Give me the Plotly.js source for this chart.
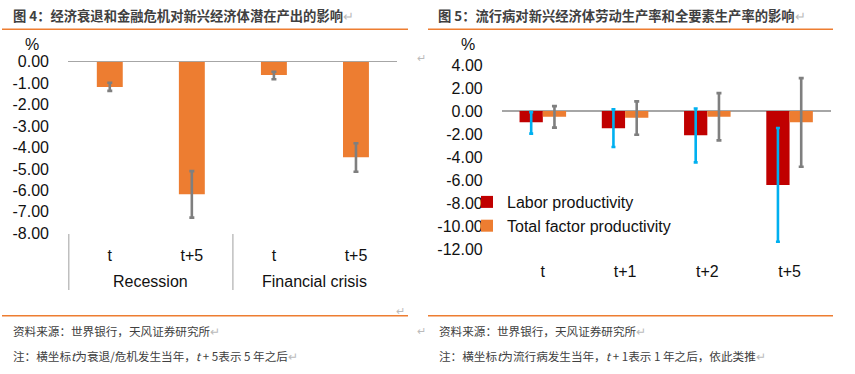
<!DOCTYPE html>
<html>
<head>
<meta charset="utf-8">
<script src="https://cdn.plot.ly/plotly-3.0.1.min.js"></script>
<style>html,body{margin:0;padding:0;background:#fff;}#chart{width:855px;height:374px;}</style>
</head>
<body>
<div id="chart"></div>
<script>
// ---- Figure 4 data ----
const fig4Groups = ["Recession", "Recession", "Financial crisis", "Financial crisis"];
const fig4Periods = ["t", "t+5", "t", "t+5"];
const fig4Values = [-1.18, -6.18, -0.62, -4.46];
const fig4ErrHigh = [-0.98, -5.10, -0.47, -3.80];
const fig4ErrLow = [-1.36, -7.27, -0.82, -5.13];

// ---- Figure 5 data ----
const fig5Periods = ["t", "t+1", "t+2", "t+5"];
const laborValues = [-0.98, -1.50, -2.10, -6.42];
const laborErrHigh = [-0.09, 0.15, 0.23, -1.47];
const laborErrLow = [-1.96, -3.12, -4.45, -11.34];
const tfpValues = [-0.49, -0.57, -0.49, -0.98];
const tfpErrHigh = [0.43, 0.84, 1.56, 2.86];
const tfpErrLow = [-1.44, -2.05, -2.54, -4.83];

const fig4YTicks = [0, -1, -2, -3, -4, -5, -6, -7, -8];
const fig5YTicks = [4, 2, 0, -2, -4, -6, -8, -10, -12];

const plus = (hi, v) => hi.map((h, i) => h - v[i]);
const minus = (lo, v) => lo.map((l, i) => v[i] - l);
const fmt = arr => arr.map(v => v.toFixed(2));

const ORANGE = "#ED7D31", RED = "#C00000", BLUE = "#00B0F0", GREY = "#7F7F7F";
const FONT = "Liberation Sans, Arial, sans-serif";
const CJK = "Noto Sans CJK SC, sans-serif";
const W = 855, H = 374;
const px = x => x / W, py = y => 1 - y / H;

// unique category keys for figure 4, labelled by period
const fig4Keys = fig4Groups.map((g, i) => g + " " + fig4Periods[i]);
// group spans (index ranges) derived from the group array
const groupSpans = [];
fig4Groups.forEach((g, i) => {
  const last = groupSpans[groupSpans.length - 1];
  if (last && last.name === g) last.end = i; else groupSpans.push({name: g, start: i, end: i});
});

const traces = [
  {
    type: "bar", x: fig4Keys, y: fig4Values,
    xaxis: "x", yaxis: "y", marker: {color: ORANGE}, width: 0.316,
    showlegend: false, hoverinfo: "skip",
    error_y: {type: "data", symmetric: false, array: plus(fig4ErrHigh, fig4Values),
      arrayminus: minus(fig4ErrLow, fig4Values), color: GREY, thickness: 2.6, width: 2.5}
  },
  {
    type: "bar", name: "Labor productivity", x: fig5Periods, y: laborValues,
    xaxis: "x2", yaxis: "y2", marker: {color: RED}, offset: -0.283, width: 0.283,
    error_y: {type: "data", symmetric: false, array: plus(laborErrHigh, laborValues),
      arrayminus: minus(laborErrLow, laborValues), color: BLUE, thickness: 2.6, width: 2}
  },
  {
    type: "bar", name: "Total factor productivity", x: fig5Periods, y: tfpValues,
    xaxis: "x2", yaxis: "y2", marker: {color: ORANGE}, offset: 0, width: 0.283,
    error_y: {type: "data", symmetric: false, array: plus(tfpErrHigh, tfpValues),
      arrayminus: minus(tfpErrLow, tfpValues), color: GREY, thickness: 2.6, width: 2.5}
  }
];

const tickFont = {family: FONT, size: 16, color: "#111"};
const yCommon = {
  showgrid: false, zeroline: true, zerolinecolor: "#A6A6A6", zerolinewidth: 1.5,
  showline: false, ticks: "", tickfont: tickFont,
  tickmode: "array", ticklabelstandoff: 18, fixedrange: true
};

const shapes = [
  {type: "line", xref: "paper", yref: "paper", x0: px(2), x1: px(408), y0: py(29.3), y1: py(29.3), line: {color: ORANGE, width: 1.5}},
  {type: "line", xref: "paper", yref: "paper", x0: px(428), x1: px(833), y0: py(29.3), y1: py(29.3), line: {color: ORANGE, width: 1.5}},
  {type: "line", xref: "paper", yref: "paper", x0: px(2), x1: px(408), y0: py(315.7), y1: py(315.7), line: {color: ORANGE, width: 1.5}},
  {type: "line", xref: "paper", yref: "paper", x0: px(428), x1: px(833), y0: py(315.7), y1: py(315.7), line: {color: ORANGE, width: 1.5}}
];
// group dividers: at the start of every group
groupSpans.forEach(s => {
  shapes.push({type: "line", xref: "x", yref: "paper", x0: s.start - 0.5, x1: s.start - 0.5,
    y0: py(234), y1: py(290), line: {color: "#BFBFBF", width: 1.5}});
});

const annotations = [
  {xref: "paper", yref: "paper", x: px(11), y: py(15), xanchor: "left", yanchor: "middle", showarrow: false,
    text: "<b>图 4：经济衰退和金融危机对新兴经济体潜在产出的影响</b><span style=\"color:#BBBBBB\">↵</span>",
    font: {family: CJK, size: 13.3, color: "#404040"}},
  {xref: "paper", yref: "paper", x: px(436), y: py(15), xanchor: "left", yanchor: "middle", showarrow: false,
    text: "<b>图 5：流行病对新兴经济体劳动生产率和全要素生产率的影响</b><span style=\"color:#BBBBBB\">↵</span>",
    font: {family: CJK, size: 13.3, color: "#404040"}},
  {xref: "paper", yref: "paper", x: px(32), y: py(44), xanchor: "center", yanchor: "middle", showarrow: false,
    text: "%", font: {family: FONT, size: 16, color: "#111"}},
  {xref: "paper", yref: "paper", x: px(468.5), y: py(44), xanchor: "center", yanchor: "middle", showarrow: false,
    text: "%", font: {family: FONT, size: 16, color: "#111"}},
  {xref: "paper", yref: "paper", x: px(11), y: py(331), xanchor: "left", yanchor: "middle", showarrow: false,
    text: "资料来源：世界银行，天风证券研究所<span style=\"color:#BBBBBB\">↵</span>",
    font: {family: CJK, size: 11.6, color: "#404040"}},
  {xref: "paper", yref: "paper", x: px(11), y: py(356), xanchor: "left", yanchor: "middle", showarrow: false,
    text: "注：横坐标<i>t</i>为衰退/危机发生当年，<i>t</i> + 5表示 5 年之后<span style=\"color:#BBBBBB\">↵</span>",
    font: {family: CJK, size: 11.6, color: "#404040"}},
  {xref: "paper", yref: "paper", x: px(437), y: py(331), xanchor: "left", yanchor: "middle", showarrow: false,
    text: "资料来源：世界银行，天风证券研究所<span style=\"color:#BBBBBB\">↵</span>",
    font: {family: CJK, size: 11.6, color: "#404040"}},
  {xref: "paper", yref: "paper", x: px(437), y: py(356), xanchor: "left", yanchor: "middle", showarrow: false,
    text: "注：横坐标<i>t</i>为流行病发生当年，<i>t</i> + 1表示 1 年之后，依此类推<span style=\"color:#BBBBBB\">↵</span>",
    font: {family: CJK, size: 11.6, color: "#404040"}},
  {xref: "paper", yref: "paper", x: px(421), y: py(57), xanchor: "center", yanchor: "middle", showarrow: false,
    text: "↵", font: {family: CJK, size: 11, color: "#BBBBBB"}},
  {xref: "paper", yref: "paper", x: px(400), y: py(310), xanchor: "center", yanchor: "middle", showarrow: false,
    text: "↵", font: {family: CJK, size: 11, color: "#BBBBBB"}},
  {xref: "paper", yref: "paper", x: px(421), y: py(330), xanchor: "center", yanchor: "middle", showarrow: false,
    text: "↵", font: {family: CJK, size: 11, color: "#BBBBBB"}}
];
// group labels centred under each group
groupSpans.forEach(s => {
  annotations.push({xref: "x", yref: "paper", x: (s.start + s.end) / 2, y: py(281.7),
    xanchor: "center", yanchor: "middle", showarrow: false, text: s.name,
    font: {family: FONT, size: 16, color: "#111"}});
});

const layout = {
  width: W, height: H, autosize: false,
  margin: {l: 0, r: 0, t: 0, b: 0},
  paper_bgcolor: "#fff", plot_bgcolor: "#fff",
  barmode: "group", bargap: 0.433, bargroupgap: 0,
  font: {family: FONT, size: 16, color: "#111"},
  xaxis: {
    domain: [px(68), px(397)], anchor: "y", type: "category",
    showgrid: false, showline: false, zeroline: false, ticks: "",
    tickmode: "array", tickvals: fig4Keys, ticktext: fig4Periods,
    tickfont: tickFont, ticklabelstandoff: 11, fixedrange: true
  },
  yaxis: Object.assign({}, yCommon, {
    domain: [py(233.3), py(61.7)], anchor: "x", range: [-8, 0],
    tickvals: fig4YTicks, ticktext: fmt(fig4YTicks)
  }),
  xaxis2: {
    domain: [px(501.7), px(830.7)], anchor: "y2", type: "category",
    showgrid: false, showline: false, zeroline: false, ticks: "",
    tickfont: tickFont, ticklabelstandoff: 11, fixedrange: true
  },
  yaxis2: Object.assign({}, yCommon, {
    domain: [py(249.3), py(65)], anchor: "x2", range: [-12, 4],
    tickvals: fig5YTicks, ticktext: fmt(fig5YTicks)
  }),
  legend: {
    x: px(467), y: py(185), xanchor: "left", yanchor: "top",
    font: {family: FONT, size: 16, color: "#111"}, bgcolor: "rgba(0,0,0,0)",
    traceorder: "normal", itemwidth: 30, tracegroupgap: 0
  },
  shapes: shapes,
  annotations: annotations
};

Plotly.newPlot("chart", traces, layout, {staticPlot: true, displayModeBar: false});
</script>
</body>
</html>
